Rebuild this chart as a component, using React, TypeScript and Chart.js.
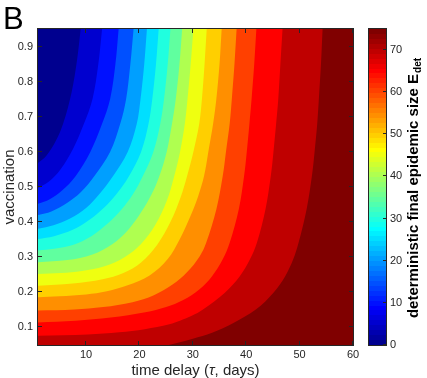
import React, { useEffect, useRef } from "react";
import { Chart, registerables } from "chart.js";

Chart.register(...registerables);

// ---------------- data ----------------
const X_MIN = 1;
const X_MAX = 60;
const Y_MIN = 0.05;
const Y_MAX = 0.95;
const X_TICKS = [10, 20, 30, 40, 50, 60];
const Y_TICKS = [0.1, 0.2, 0.3, 0.4, 0.5, 0.6, 0.7, 0.8, 0.9];
const CB_MIN = 0;
const CB_MAX = 75;
const CB_TICKS = [0, 10, 20, 30, 40, 50, 60, 70];
const LEVELS = [5, 10, 15, 20, 25, 30, 35, 40, 45, 50, 55, 60, 65, 70, 75];

// contour lines [time delay, vaccination] (top edge -> left/bottom edge)
const E5 = [[9.0, 0.95], [8.3, 0.86], [7.3, 0.77], [5.7, 0.68], [4.3, 0.63], [2.6, 0.59], [1, 0.568]];
const E10 = [[13.0, 0.95], [12.3, 0.85], [11.2, 0.75], [9.6, 0.68], [7.6, 0.61], [5.2, 0.55], [3.0, 0.515], [1, 0.497]];
const E15 = [[16.1, 0.95], [15.5, 0.85], [14.5, 0.75], [13.0, 0.68], [10.8, 0.6], [8.0, 0.53], [5.5, 0.49], [3.2, 0.465], [1, 0.452]];
const E20 = [[18.9, 0.95], [18.3, 0.85], [17.5, 0.75], [16.4, 0.68], [14.5, 0.6], [11.5, 0.53], [9.0, 0.485], [6.5, 0.455], [3.5, 0.43], [1, 0.42]];
const E25 = [[21.4, 0.95], [20.9, 0.85], [20.2, 0.75], [19.5, 0.68], [17.8, 0.6], [15.0, 0.53], [12.5, 0.48], [10.0, 0.44], [7.0, 0.41], [3.9, 0.391], [1, 0.381]];
const E30 = [[23.6, 0.95], [23.1, 0.85], [22.4, 0.75], [21.7, 0.68], [20.3, 0.6], [18.0, 0.53], [15.7, 0.48], [13.3, 0.44], [10.5, 0.405], [7.5, 0.378], [4.0, 0.36], [1, 0.352]];
const E35 = [[25.8, 0.95], [25.3, 0.85], [24.6, 0.75], [23.9, 0.68], [22.6, 0.6], [20.6, 0.53], [18.8, 0.48], [16.6, 0.435], [14.0, 0.395], [11.0, 0.36], [7.5, 0.335], [4.0, 0.324], [1, 0.319]];
const E40 = [[28.0, 0.95], [27.5, 0.85], [26.8, 0.75], [26.1, 0.68], [25.1, 0.6], [23.7, 0.53], [22.3, 0.48], [20.4, 0.43], [18.0, 0.38], [14.9, 0.337], [11.2, 0.308], [6.5, 0.292], [1, 0.286]];
const E45 = [[30.1, 0.95], [29.6, 0.85], [29.0, 0.75], [28.5, 0.68], [27.6, 0.6], [26.5, 0.53], [25.1, 0.46], [22.9, 0.39], [20.3, 0.338], [17.2, 0.3], [13.6, 0.275], [9.2, 0.261], [5.3, 0.255], [1, 0.252]];
const E50 = [[32.6, 0.95], [32.2, 0.85], [31.7, 0.75], [31.2, 0.68], [30.1, 0.6], [28.9, 0.53], [27.7, 0.47], [25.8, 0.4], [23.3, 0.335], [20.3, 0.285], [17.0, 0.255], [13.1, 0.237], [7.5, 0.225], [1, 0.219]];
const E55 = [[35.4, 0.95], [35.0, 0.85], [34.4, 0.75], [33.8, 0.68], [32.9, 0.6], [32.1, 0.531], [31.0, 0.474], [29.6, 0.419], [27.5, 0.35], [25.3, 0.295], [21.9, 0.248], [17.8, 0.22], [13.9, 0.203], [10, 0.194], [5, 0.189], [1, 0.186]];
const E60 = [[38.2, 0.95], [37.8, 0.85], [37.3, 0.75], [36.9, 0.68], [36.2, 0.6], [35.6, 0.531], [34.4, 0.436], [32.5, 0.341], [31.3, 0.303], [28.9, 0.257], [26.2, 0.222], [22.7, 0.192], [18.7, 0.172], [13.2, 0.158], [7.8, 0.151], [1, 0.148]];
const E65 = [[41.9, 0.95], [41.5, 0.85], [41.0, 0.75], [40.6, 0.68], [40.1, 0.6], [39.6, 0.531], [38.6, 0.436], [36.9, 0.341], [35.6, 0.294], [33.6, 0.246], [31.2, 0.208], [28.2, 0.178], [25.0, 0.158], [21.1, 0.143], [14.6, 0.128], [8.0, 0.119], [1, 0.114]];
const E70 = [[46.8, 0.95], [46.4, 0.85], [46.0, 0.75], [45.6, 0.68], [45.1, 0.6], [44.6, 0.531], [43.6, 0.436], [42.0, 0.341], [40.7, 0.294], [38.8, 0.246], [36.0, 0.199], [31.9, 0.151], [29.8, 0.133], [27.7, 0.12], [25.6, 0.109], [21.0, 0.095], [16.2, 0.086], [10.3, 0.08], [1, 0.076]];
const E75 = [[54.3, 0.95], [54.0, 0.85], [53.6, 0.75], [53.3, 0.68], [52.8, 0.6], [52.3, 0.531], [51.3, 0.436], [49.8, 0.341], [48.8, 0.294], [47.3, 0.246], [45.1, 0.199], [41.8, 0.151], [37.6, 0.113], [33.6, 0.085], [30.0, 0.068], [25.5, 0.05]];

const CONTOURS = [E5, E10, E15, E20, E25, E30, E35, E40, E45, E50, E55, E60, E65, E70, E75];

const PANEL_LABEL = "B";
const X_TITLE = ["time delay (", "τ", ", days)"];
const Y_TITLE = "vaccination";
const CB_TITLE = "deterministic final epidemic size E";
const CB_TITLE_SUB = "det";

// ---------------- styling ----------------
const FONT = '"Liberation Sans", Arial, Helvetica, sans-serif';
const AXIS_COLOR = "#262626";

function jet64(i: number): string {
  const idx = i + 1;
  const u = (j: number) => (j < 1 || j > 47 ? 0 : j <= 16 ? j / 16 : j <= 31 ? 1 : (48 - j) / 16);
  const r = u(idx - 24), g = u(idx - 8), b = u(idx + 8);
  return `rgb(${Math.round(r * 255)},${Math.round(g * 255)},${Math.round(b * 255)})`;
}

function colorFor(value: number): string {
  const i = Math.max(0, Math.min(63, Math.floor(((value - CB_MIN) / (CB_MAX - CB_MIN)) * 64)));
  return jet64(i);
}

// region "below the contour level": the contour itself, closed along the plot's left/top edges.
// End points are repeated so the spline meets the plot edges with the contour's own tangent.
function polygon(pts: number[][]) {
  const out = pts.map(([x, y]) => ({ x, y }));
  const first = out[0];
  const last = out[out.length - 1];
  out.unshift({ ...first });
  out.push({ ...last });
  if (last.y <= Y_MIN + 1e-9) out.push({ x: X_MIN, y: Y_MIN });
  out.push({ x: X_MIN, y: Y_MAX });
  return out;
}

const mainPlugin = {
  id: "matlabAxes",
  afterDraw(chart: any) {
    const { ctx, chartArea: a, scales } = chart;
    ctx.save();
    ctx.strokeStyle = AXIS_COLOR;
    ctx.lineWidth = 1;
    ctx.strokeRect(a.left - 0.5, a.top - 0.5, a.right - a.left + 1, a.bottom - a.top + 1);
    const TL = 4;
    ctx.beginPath();
    for (const v of X_TICKS) {
      const px = Math.round(scales.x.getPixelForValue(v)) - 0.5;
      ctx.moveTo(px, a.bottom);
      ctx.lineTo(px, a.bottom - TL);
      ctx.moveTo(px, a.top);
      ctx.lineTo(px, a.top + TL);
    }
    for (const v of Y_TICKS) {
      const py = Math.round(scales.y.getPixelForValue(v)) - 0.5;
      ctx.moveTo(a.left, py);
      ctx.lineTo(a.left + TL, py);
      ctx.moveTo(a.right, py);
      ctx.lineTo(a.right - TL, py);
    }
    ctx.stroke();

    // panel label
    ctx.fillStyle = "#000";
    ctx.textAlign = "left";
    ctx.textBaseline = "alphabetic";
    ctx.font = `31px ${FONT}`;
    ctx.fillText(PANEL_LABEL, 3, 29);

    // x title with italic tau
    ctx.fillStyle = AXIS_COLOR;
    const fonts = [`15px ${FONT}`, `italic 15px ${FONT}`, `15px ${FONT}`];
    const widths = X_TITLE.map((t, i) => {
      ctx.font = fonts[i];
      return ctx.measureText(t).width;
    });
    const total = widths.reduce((s, w) => s + w, 0);
    let sx = (a.left + a.right) / 2 - total / 2;
    X_TITLE.forEach((t, i) => {
      ctx.font = fonts[i];
      ctx.fillText(t, sx, 374.5);
      sx += widths[i];
    });

    // y title
    ctx.save();
    ctx.translate(14, (a.top + a.bottom) / 2);
    ctx.rotate(-Math.PI / 2);
    ctx.textAlign = "center";
    ctx.font = `15px ${FONT}`;
    ctx.fillText(Y_TITLE, 0, 0);
    ctx.restore();
    ctx.restore();
  },
};

const cbPlugin = {
  id: "colorbarDecor",
  afterDraw(chart: any) {
    const { ctx, chartArea: a, scales } = chart;
    ctx.save();
    ctx.strokeStyle = AXIS_COLOR;
    ctx.lineWidth = 1;
    ctx.strokeRect(a.left - 0.5, a.top - 0.5, a.right - a.left + 1, a.bottom - a.top + 1);
    ctx.beginPath();
    for (const v of CB_TICKS) {
      const py = Math.round(scales.y.getPixelForValue(v)) - 0.5;
      ctx.moveTo(a.right, py);
      ctx.lineTo(a.right - 3, py);
    }
    ctx.stroke();

    // title, rotated, with subscript
    ctx.fillStyle = "#000";
    ctx.translate(50.5, (a.top + a.bottom) / 2 + 1);
    ctx.rotate(-Math.PI / 2);
    ctx.textAlign = "left";
    ctx.textBaseline = "alphabetic";
    const mainFont = `bold 15px ${FONT}`;
    const subFont = `bold 10px ${FONT}`;
    ctx.font = mainFont;
    const w1 = ctx.measureText(CB_TITLE).width;
    ctx.font = subFont;
    const w2 = ctx.measureText(CB_TITLE_SUB).width;
    const start = -(w1 + w2 + 1) / 2;
    ctx.font = mainFont;
    ctx.fillText(CB_TITLE, start, 0);
    ctx.font = subFont;
    ctx.fillText(CB_TITLE_SUB, start + w1 + 1, 3.5);
    ctx.restore();
  },
};

export default function App() {
  const mainRef = useRef<HTMLCanvasElement | null>(null);
  const cbRef = useRef<HTMLCanvasElement | null>(null);

  useEffect(() => {
    if (!mainRef.current || !cbRef.current) return;

    const datasets: any[] = CONTOURS.map((pts, k) => ({
      data: polygon(pts),
      backgroundColor: colorFor(k === 0 ? CB_MIN : LEVELS[k - 1]),
      borderColor: "rgba(0,0,0,0)",
      borderWidth: 0,
      pointRadius: 0,
      tension: 0.35,
      fill: "shape",
    }));
    datasets.push({
      data: [
        { x: X_MIN, y: Y_MAX },
        { x: X_MAX, y: Y_MAX },
        { x: X_MAX, y: Y_MIN },
        { x: X_MIN, y: Y_MIN },
      ],
      backgroundColor: colorFor(LEVELS[LEVELS.length - 1]),
      borderColor: "rgba(0,0,0,0)",
      borderWidth: 0,
      pointRadius: 0,
      tension: 0,
      fill: "shape",
    });

    const tickFont = { family: FONT, size: 11 };

    const main = new Chart(mainRef.current, {
      type: "line",
      data: { datasets },
      options: {
        animation: false,
        responsive: false,
        events: [],
        elements: { line: { capBezierPoints: true } },
        layout: { padding: { left: 0, top: 29, right: 74, bottom: 0 } },
        plugins: { legend: { display: false }, tooltip: { enabled: false } },
        scales: {
          x: {
            type: "linear",
            min: X_MIN,
            max: X_MAX,
            grid: { display: false, drawTicks: false },
            border: { display: false },
            afterBuildTicks: (s: any) => {
              s.ticks = X_TICKS.map((v) => ({ value: v }));
            },
            afterFit: (s: any) => {
              s.height = 33;
            },
            ticks: { color: AXIS_COLOR, font: tickFont, padding: 3, autoSkip: false, maxRotation: 0, callback: (v: any) => String(v) },
          },
          y: {
            type: "linear",
            min: Y_MIN,
            max: Y_MAX,
            grid: { display: false, drawTicks: false },
            border: { display: false },
            afterBuildTicks: (s: any) => {
              s.ticks = Y_TICKS.map((v) => ({ value: v }));
            },
            afterFit: (s: any) => {
              s.width = 38;
            },
            ticks: { color: AXIS_COLOR, font: tickFont, padding: 5, autoSkip: false, callback: (v: any) => String(v) },
          },
        },
      } as any,
      plugins: [mainPlugin],
    });

    const cb = new Chart(cbRef.current, {
      type: "bar",
      data: {
        labels: [""],
        datasets: [
          {
            data: [CB_MAX],
            borderWidth: 0,
            barPercentage: 1,
            categoryPercentage: 1,
            backgroundColor: (c: any) => {
              const { chart } = c;
              const { ctx, chartArea, scales } = chart;
              if (!chartArea || !scales.y) return "transparent";
              const y0 = scales.y.getPixelForValue(CB_MIN);
              const y1 = scales.y.getPixelForValue(CB_MAX);
              const g = ctx.createLinearGradient(0, y0, 0, y1);
              for (let i = 0; i < 64; i++) {
                g.addColorStop(i / 64, jet64(i));
                g.addColorStop(Math.min(1, (i + 1) / 64 - 0.0001), jet64(i));
              }
              return g;
            },
          },
        ],
      },
      options: {
        animation: false,
        responsive: false,
        events: [],
        layout: { padding: { left: 2, top: 29, right: 0, bottom: 33 } },
        plugins: { legend: { display: false }, tooltip: { enabled: false } },
        scales: {
          x: { display: false },
          y: {
            position: "right",
            min: CB_MIN,
            max: CB_MAX,
            grid: { display: false, drawTicks: false },
            border: { display: false },
            afterBuildTicks: (s: any) => {
              s.ticks = CB_TICKS.map((v) => ({ value: v }));
            },
            afterFit: (s: any) => {
              s.width = 41;
            },
            ticks: { color: AXIS_COLOR, font: tickFont, padding: 4, autoSkip: false, callback: (v: any) => String(v) },
          },
        },
      } as any,
      plugins: [cbPlugin],
    });

    return () => {
      main.destroy();
      cb.destroy();
    };
  }, []);

  return (
    <div style={{ position: "fixed", left: 0, top: 0, width: 427, height: 378, background: "#fff" }}>
      <canvas ref={mainRef} width={427} height={378} style={{ position: "absolute", left: 0, top: 0 }} />
      <canvas ref={cbRef} width={60} height={378} style={{ position: "absolute", left: 367, top: 0 }} />
    </div>
  );
}
